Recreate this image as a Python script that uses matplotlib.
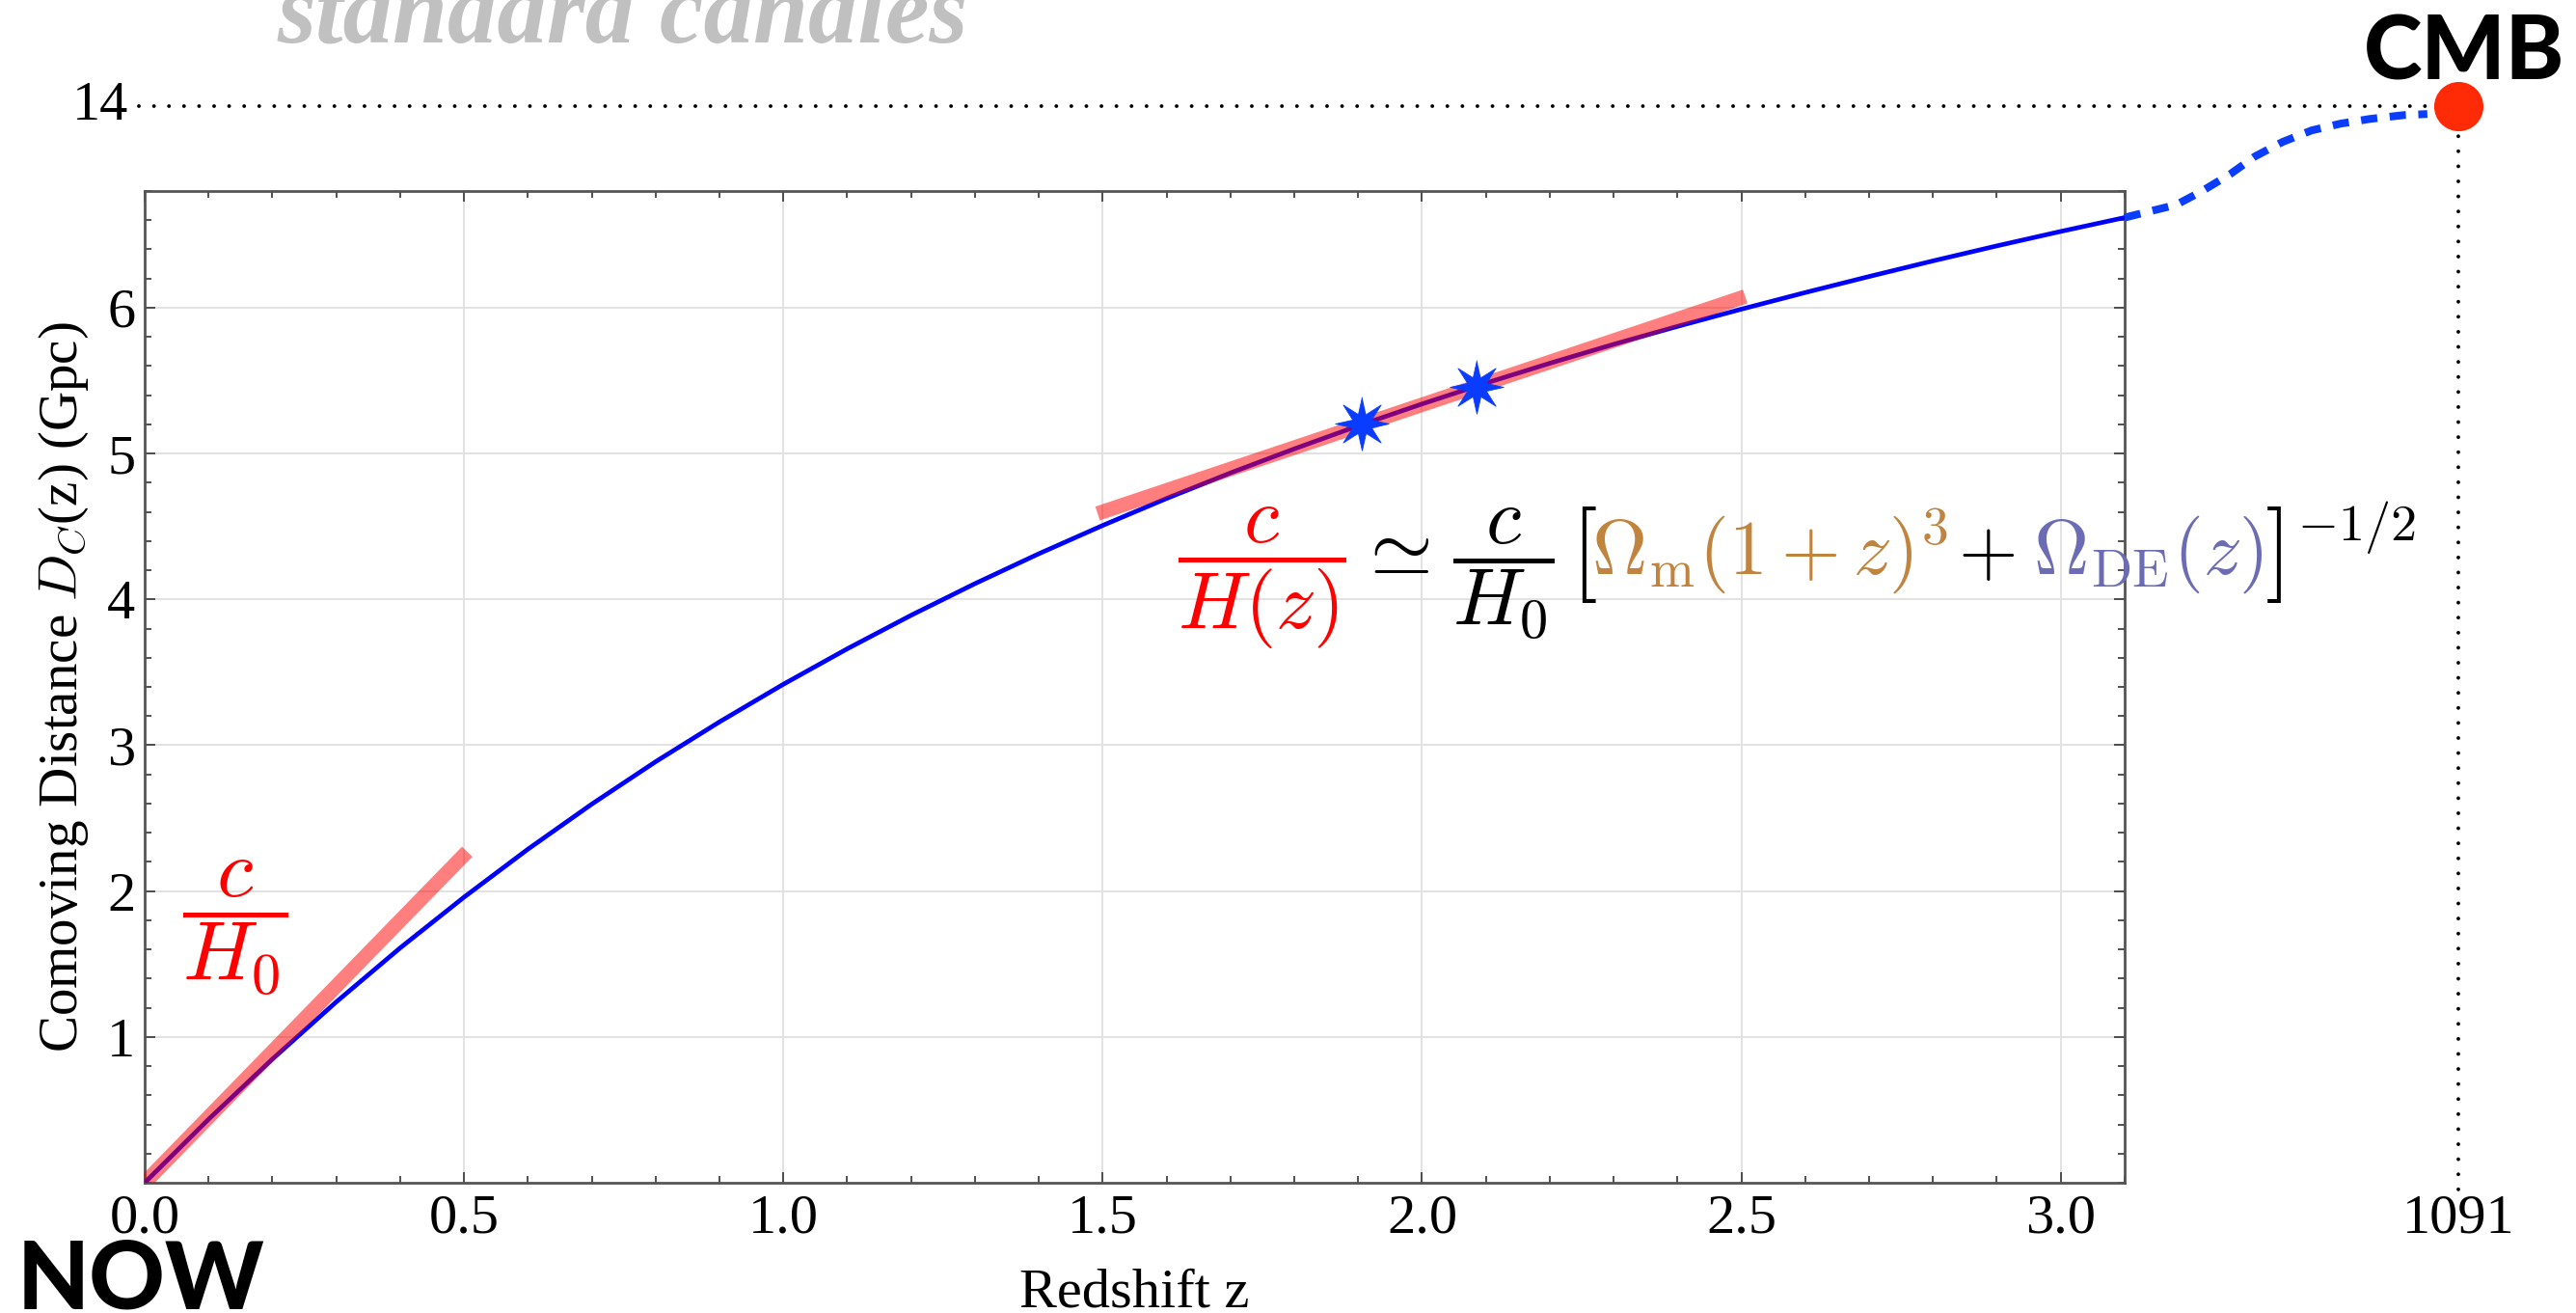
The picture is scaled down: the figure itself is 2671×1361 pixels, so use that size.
import numpy as np
import matplotlib
matplotlib.use('Agg')
import matplotlib.pyplot as plt
import matplotlib.transforms as mtransforms
from matplotlib.ticker import MultipleLocator, FixedLocator

plt.rcParams['font.family'] = ['Liberation Serif', 'DejaVu Serif']
plt.rcParams['mathtext.fontset'] = 'cm'

# comoving distance D_C(z) in Gpc
redshift = [0.0, 0.1, 0.2, 0.3, 0.4, 0.5, 0.6, 0.7, 0.8, 0.9, 1.0,
            1.1, 1.2, 1.3, 1.4, 1.5, 1.6, 1.7, 1.8, 1.9, 2.0,
            2.1, 2.2, 2.3, 2.4, 2.5, 2.6, 2.7, 2.8, 2.9, 3.0, 3.1]
comoving = [0.000, 0.435, 0.848, 1.240, 1.610, 1.958, 2.287, 2.596, 2.887, 3.160, 3.418,
            3.661, 3.891, 4.108, 4.313, 4.507, 4.692, 4.867, 5.032, 5.190, 5.340,
            5.483, 5.619, 5.749, 5.872, 5.990, 6.104, 6.214, 6.321, 6.424, 6.523, 6.618]

# straight approximations: c/H0 near z=0, c/H(z) around z~2
low_z = [0.0, 0.505]
low_d = [0.0, 2.27]
high_z = [1.492, 2.506]
high_d = [4.589, 6.077]

# the two star points
star_z = [1.905, 2.086]
star_d = [5.205, 5.459]

# schematic dashed continuation out to the CMB (broken scale, beyond the frame)
ext_z = [3.100, 3.181, 3.221, 3.266, 3.304, 3.347, 3.393, 3.438, 3.485, 3.538, 3.574]
ext_d = [6.618, 6.706, 6.799, 6.918, 7.037, 7.136, 7.216, 7.262, 7.295, 7.321, 7.328]
cmb_z_label = '1091'
cmb_d_label = '14'
cmb_x, cmb_y = 3.623, 7.38   # where the CMB sits on the broken axes

fig = plt.figure(figsize=(13.355, 6.805), dpi=200)
ax = fig.add_axes([0.05616, 0.0992, 0.7686, 0.7553])

ax.set_xlim(0, 3.1)
ax.set_ylim(0, 6.8)
ax.xaxis.set_major_locator(MultipleLocator(0.5))
ax.xaxis.set_minor_locator(MultipleLocator(0.1))
ax.yaxis.set_major_locator(FixedLocator([1, 2, 3, 4, 5, 6]))
ax.yaxis.set_minor_locator(MultipleLocator(0.2))
ax.xaxis.set_major_formatter(plt.FormatStrFormatter('%.1f'))
ax.tick_params(which='both', direction='in', top=True, right=True,
               color='#333333', width=0.6, labelsize=21)
ax.tick_params(which='major', length=3.8)
ax.tick_params(which='minor', length=2.4)
ax.tick_params(axis='x', pad=4)
ax.tick_params(axis='y', pad=3.5)
for sp in ax.spines.values():
    sp.set_color('#555555')
    sp.set_linewidth(1.0)
ax.grid(True, which='major', color='#e2e2e2', lw=0.7)
ax.set_axisbelow(True)

ax.set_xlabel('Redshift z', fontsize=21, labelpad=9)
ax.set_ylabel(r'Comoving Distance $D_C$(z) (Gpc)', fontsize=20.5, labelpad=6)

# 8-pointed star marker
k = np.arange(16)
ang = np.pi / 2 + k * np.pi / 8
rad = np.where(k % 2 == 0, 1.0, 0.38)
star8 = np.column_stack([rad * np.cos(ang), rad * np.sin(ang)])

# curve, tangents, stars
ax.plot(redshift, comoving, color='#0000ff', lw=1.7, zorder=3)
ax.plot(low_z, low_d, color='red', alpha=0.5, lw=5.4, solid_capstyle='butt', zorder=4)
ax.plot(high_z, high_d, color='red', alpha=0.5, lw=5.4, solid_capstyle='butt', zorder=4)
ax.plot(star_z, star_d, ls='none', marker=star8, ms=20, color='#0a3cff',
        mec='#0a3cff', mew=0.3, zorder=5)

# beyond the frame: dashed continuation, guide lines, CMB point
ax.plot(ext_z, ext_d, color='#0a3dff', lw=2.9, ls=(0, (2.1, 1.6)),
        dash_capstyle='butt', clip_on=False, zorder=3)
dots = (0, (0.01, 4.0))
ax.plot([-0.009, cmb_x], [cmb_y, cmb_y], color='black', lw=1.4, ls=dots,
        dash_capstyle='round', clip_on=False, zorder=2)
ax.plot([cmb_x, cmb_x], [cmb_y, -0.07], color='black', lw=1.4, ls=dots,
        dash_capstyle='round', clip_on=False, zorder=2)
ax.plot([cmb_x], [cmb_y], marker='o', ms=18.4, color='#ff2b06', mec='none',
        clip_on=False, zorder=6)

ax.annotate(cmb_z_label, xy=(cmb_x, 0), xycoords=('data', 'axes fraction'),
            xytext=(0, -4), textcoords='offset points', ha='center', va='top',
            fontsize=21, annotation_clip=False)
ax.annotate(cmb_d_label, xy=(-0.009, cmb_y), xytext=(-4, 0),
            textcoords='offset points', ha='right', va='center',
            fontsize=21, annotation_clip=False)

fig.text(0.9566, 0.9397, 'CMB', family=['Lato', 'DejaVu Sans'], weight='black',
         fontsize=33, ha='center', va='baseline')
fig.text(0.0065, 0.003, 'NOW', family=['Lato', 'DejaVu Sans'], weight='black',
         fontsize=35, ha='left', va='baseline')
fig.text(0.1075, 0.9684, 'standard candles', fontsize=37, weight='bold',
         style='italic', color='#c0c0c0', ha='left', va='baseline')

# c/H0 label near the origin
ax.text(0.142, 1.746, r'$\dfrac{c}{H_0}$', color='red', fontsize=31,
        ha='center', va='center', zorder=6)

# formula, built piece by piece so each part keeps its own colour
fig.canvas.draw()
renderer = fig.canvas.get_renderer()
x, y = ax.transData.transform((1.617, 4.173))
pieces = [
    (r'$\dfrac{c}{H(z)}$', 'red', 30, 0, 0),
    (r'$\simeq$', 'black', 30, 10, 0),
    (r'$\dfrac{c}{H_0}$', 'black', 30, 24, 0),
    (r'$[$', 'black', 36, 16, -5),
    (r'$\Omega_{\rm m}(1+z)^3$', '#c0843f', 28.5, -5, 0),
    (r'$+$', 'black', 28.5, 10, 0),
    (r'$\Omega_{\rm DE}(z)$', '#6c6cb4', 28.5, 18, 0),
    (r'$]$', 'black', 36, 2, -5),
    (r'$-1/2$', 'black', 19.5, 16, 35),
]
ident = mtransforms.IdentityTransform()
for s, col, fs, gap, dy in pieces:
    t = ax.text(x + gap, y + dy, s, color=col, fontsize=fs, transform=ident,
                ha='left', va='baseline', zorder=6)
    x = t.get_window_extent(renderer).x1

fig.savefig('out.png', dpi=200)
